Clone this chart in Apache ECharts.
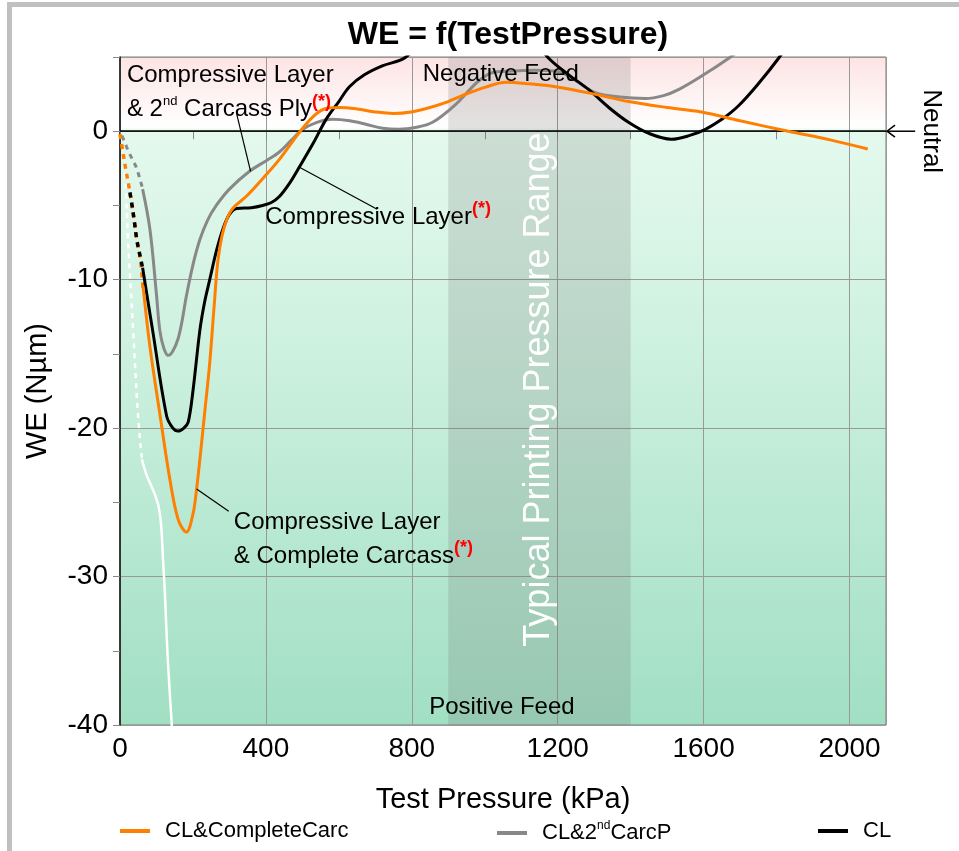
<!DOCTYPE html>
<html><head><meta charset="utf-8">
<script src="https://cdn.jsdelivr.net/npm/echarts@6/dist/echarts.min.js"></script>
<style>html,body{margin:0;padding:0;background:#fff}#c{width:959px;height:851px}</style>
</head><body><div id="c"></div>
<script>
// ---- data (Test Pressure kPa, WE Nµm) ----
const orangeDash = [[0,-0.2],[8,-1.4],[16,-2.6],[25,-3.8],[33,-5.0],[40,-6.2],[46,-7.3],[55,-8.5],[60,-9.6],[64,-10.8]];
const orangeSolid = [[63,-10.4],[82,-14.5],[109,-19],[137,-23.5],[160,-26.2],[182,-27],[200,-25.8],[210,-24.1],[219,-22.1],[232,-19],[246,-15.6],[258,-11.8],[268,-8.8],[280,-7.0],[295,-5.8],[309,-5.2],[350,-4.3],[391,-3.2],[437,-1.9],[492,-0.07],[530,1.0],[560,1.5],[601,1.6],[650,1.5],[700,1.3],[750,1.2],[798,1.3],[850,1.6],[900,2.0],[938,2.4],[1000,2.95],[1058,3.3],[1120,3.2],[1194,3.0],[1300,2.5],[1394,2.0],[1500,1.6],[1594,1.3],[1700,0.7],[1832,0],[1950,-0.6],[2050,-1.2]];
const grayDash = [[5,-0.3],[14,-0.8],[23,-1.35],[34,-1.9],[44,-2.4],[52,-3.0],[59,-3.6],[62,-3.9]];
const graySolid = [[62,-3.9],[82,-6.6],[100,-11],[109,-13.4],[120,-14.6],[132,-15.1],[145,-14.8],[159,-14.0],[170,-12.8],[182,-11.1],[200,-9.0],[219,-7.3],[240,-6.0],[264,-5.0],[300,-3.9],[355,-2.7],[400,-2.0],[437,-1.4],[470,-0.6],[501,0.13],[540,0.6],[583,0.8],[630,0.7],[674,0.47],[720,0.2],[765,0.13],[810,0.25],[857,0.6],[920,1.8],[984,3.4],[1030,4.0],[1075,4.05],[1140,4.1],[1203,4.0],[1250,3.4],[1303,2.6],[1370,2.3],[1440,2.2],[1490,2.4],[1531,2.8],[1600,3.8],[1668,4.9],[1700,5.5]];
const blackDash = [[25,-3.8],[33,-5.0],[40,-6.2],[46,-7.3],[55,-8.4],[62,-9.2]];
const blackSolid = [[62,-9.2],[90,-13.5],[128,-19.2],[145,-20.0],[159,-20.2],[175,-20.0],[187,-19.6],[200,-17.5],[219,-13.4],[232,-11.5],[246,-10],[265,-8.0],[282,-6.6],[300,-5.6],[320,-5.2],[360,-5.15],[391,-5.0],[415,-4.8],[437,-4.4],[465,-3.5],[492,-2.4],[530,-0.8],[565,0.8],[600,2.0],[629,3.0],[670,3.8],[719,4.4],[784,5.0],[850,6.8],[950,8.2],[1050,7.8],[1130,6.3],[1176,4.9],[1230,3.8],[1285,2.8],[1340,1.6],[1394,0.6],[1450,-0.15],[1512,-0.54],[1560,-0.3],[1605,0.13],[1650,0.8],[1695,1.7],[1750,3.2],[1805,4.9],[1850,6.5]];
const whiteDash = [[10,-1.5],[16,-3.8],[22,-7.3],[36,-13.4],[49,-19],[60,-22.1]];
const whiteSolid = [[60,-22.1],[72,-23.1],[84,-23.8],[96,-24.5],[106,-25.3],[113,-26.6],[118,-28.9],[123,-31.1],[131,-35.6],[142,-40],[145,-41.5]];
const pressureRange = [900, 1400];
const xTicks = {min:0, max:2100, interval:400};
const yTicks = {min:-40, max:5, interval:10};
const seriesNames = ['CL&CompleteCarc','CL&2ndCarcP','CL'];

const FONT = '"Liberation Sans", Arial, sans-serif';
const chart = echarts.init(document.getElementById('c'));

const bgGrad = new echarts.graphic.LinearGradient(0,0,0,1,[
  {offset:0, color:'#fde3e3'},
  {offset:0.105, color:'#ffffff'},
  {offset:0.112, color:'#e4f9ee'},
  {offset:0.4, color:'#d0f2e1'},
  {offset:1, color:'#a1dfc3'}
]);

function line(name, data, color, width, dash, z, offset){
  return {name, type:'line', data, showSymbol:false, symbol:'none', smooth:0.35, z: z||3,
    lineStyle:{color, width, type: dash ? [5,5] : 'solid', dashOffset: offset||0, cap:'butt'},
    itemStyle:{color}, silent:true, animation:false};
}

const option = {
  animation:false,
  textStyle:{fontFamily:FONT},
  title:{text:'WE = f(TestPressure)', left:503, textAlign:'center', top:14,
    textStyle:{fontSize:32, fontWeight:'bold', color:'#000', fontFamily:FONT}},
  grid:{left:120, right:73, top:57, bottom:126, show:true, backgroundColor:bgGrad, borderColor:'#7a7a7a', borderWidth:1},
  xAxis:{type:'value', min:xTicks.min, max:xTicks.max, interval:xTicks.interval,
    name:'Test Pressure (kPa)', nameLocation:'middle', nameGap:60,
    nameTextStyle:{fontSize:29, color:'#000', fontFamily:FONT},
    axisLine:{lineStyle:{color:'#555', width:1}},
    axisTick:{show:true, length:8, lineStyle:{color:'#888'}},
    minorTick:{show:true, splitNumber:2, length:8, lineStyle:{color:'#888'}},
    axisLabel:{fontSize:28, color:'#000', margin:10, showMaxLabel:false, fontFamily:FONT, formatter:v=>String(v)},
    splitLine:{show:true, lineStyle:{color:'#999', width:1}}},
  yAxis:{type:'value', min:yTicks.min, max:yTicks.max, interval:yTicks.interval,
    name:'WE (Nµm)', nameLocation:'middle', nameGap:68, nameRotate:90,
    nameTextStyle:{fontSize:29, color:'#000', fontFamily:FONT},
    axisLine:{show:true, lineStyle:{color:'#111', width:1.5}},
    axisTick:{show:true, length:7, lineStyle:{color:'#888'}},
    minorTick:{show:true, splitNumber:2, length:7, lineStyle:{color:'#888'}},
    axisLabel:{fontSize:28, color:'#000', margin:12, showMaxLabel:false, fontFamily:FONT, formatter:v=>String(v)},
    splitLine:{show:true, lineStyle:{color:'#999', width:1}}},
  legend:[
    {data:[seriesNames[0]], left:115, top:815, icon:'rect', itemWidth:30, itemHeight:4,
     textStyle:{fontSize:22, color:'#000', padding:[0,0,0,10], fontFamily:FONT}},
    {data:[seriesNames[1]], left:492, top:815, icon:'rect', itemWidth:30, itemHeight:4,
     formatter:()=>'{a|CL&2}{s|nd}{a|CarcP}',
     textStyle:{fontSize:22, color:'#000', padding:[0,0,0,10], fontFamily:FONT,
       rich:{a:{fontSize:22, fontFamily:FONT, lineHeight:26}, s:{fontSize:12, fontFamily:FONT, verticalAlign:'top', lineHeight:26}}}},
    {data:[seriesNames[2]], left:813, top:815, icon:'rect', itemWidth:30, itemHeight:4,
     textStyle:{fontSize:22, color:'#000', padding:[0,0,0,10], fontFamily:FONT}}
  ],
  series:[
    {name:'band', type:'line', data:[], z:2, silent:true,
     markArea:{silent:true, itemStyle:{color:'rgba(110,110,110,0.2)'},
       data:[[{xAxis:pressureRange[0]},{xAxis:pressureRange[1]}]]},
     markLine:{silent:true, symbol:['none','none'], label:{show:false},
       lineStyle:{color:'#000', width:1.5, type:'solid'}, data:[{yAxis:0}]}},
    line('whiteDash', whiteDash, '#ffffff', 2.5, true, 3),
    line('white', whiteSolid, '#ffffff', 2.5, false, 3),
    line(seriesNames[1]+' ', grayDash, '#888888', 3, true, 4),
    line(seriesNames[1], graySolid, '#888888', 3, false, 4),
    line(seriesNames[0]+' ', orangeDash, '#ff7f00', 3.5, true, 5),
    line(seriesNames[2]+' ', blackDash, '#000000', 3.5, true, 6, 5),
    line(seriesNames[2], blackSolid, '#000000', 3, false, 6),
    line(seriesNames[0], orangeSolid, '#ff7f00', 3, false, 7)
  ]
};
chart.setOption(option);

// ---- annotations anchored in data units ----
const P = (x,y)=>chart.convertToPixel({gridIndex:0},[x,y]);
const rich = {
  t:{fontSize:24, fontFamily:FONT, fill:'#000', lineHeight:34},
  sup:{fontSize:13, fontFamily:FONT, fill:'#000', verticalAlign:'top', lineHeight:34, padding:[2,0,0,0]},
  ast:{fontSize:18, fontFamily:FONT, fill:'#ff0000', fontWeight:'bold', verticalAlign:'top', lineHeight:34}
};
function txt(pos, text, extra){
  const p = P(pos[0],pos[1]);
  return {type:'text', x:p[0], y:p[1], z:50, silent:true,
    style:Object.assign({text, rich, font:'24px '+FONT, fill:'#000', align:'left', verticalAlign:'middle'}, extra||{})};
}
function seg(a,b,color,w){
  const p1=P(a[0],a[1]), p2=P(b[0],b[1]);
  return {type:'line', z:50, silent:true, shape:{x1:p1[0],y1:p1[1],x2:p2[0],y2:p2[1]}, style:{stroke:color||'#000', lineWidth:w||1.2}};
}
const ann = [
  txt([19, 2.6], '{t|Compressive Layer}\n{t|& 2}{sup|nd}{t| Carcass Ply}{ast|(*)}'),
  txt([398, -5.8], '{t|Compressive Layer}{ast|(*)}'),
  txt([312, -27.5], '{t|Compressive Layer}\n{t|& Complete Carcass}{ast|(*)}'),
  txt([1044, 3.85], 'Negative Feed', {align:'center', font:'24px '+FONT}),
  txt([1047, -38.8], 'Positive Feed', {align:'center', font:'24px '+FONT}),
  seg([320,1.15],[358,-2.7]),
  seg([492,-2.43],[705,-5.26]),
  seg([210,-24.1],[298,-25.6])
];
(function(){
  const p = P(1148,-17.4);
  ann.push({type:'text', x:p[0], y:p[1], rotation:Math.PI/2, z:40, silent:true,
    style:{text:'Typical Printing Pressure Range', font:'36px '+FONT, fill:'#ffffff', align:'center', verticalAlign:'middle'}});
  const q = P(2224, 0);
  ann.push({type:'text', x:q[0], y:q[1], rotation:-Math.PI/2, z:40, silent:true,
    style:{text:'Neutral', font:'26px '+FONT, fill:'#000', align:'center', verticalAlign:'middle'}});
  const a0 = P(2100,0), a1 = P(2180,0);
  ann.push({type:'line', z:50, silent:true, shape:{x1:a0[0]+1,y1:a0[1],x2:a1[0],y2:a1[1]}, style:{stroke:'#000', lineWidth:1.5}});
  ann.push({type:'polyline', z:50, silent:true, shape:{points:[[a0[0]+9,a0[1]-6],[a0[0]+1,a0[1]],[a0[0]+9,a0[1]+6]]}, style:{stroke:'#000', lineWidth:1.5, fill:null}});
})();
ann.push({type:'rect', z:0, silent:true, shape:{x:7,y:2,width:952,height:5}, style:{fill:'#c0c0c0'}});
ann.push({type:'rect', z:0, silent:true, shape:{x:7,y:2,width:5,height:849}, style:{fill:'#c0c0c0'}});
chart.setOption({graphic:ann});
</script>
</body></html>
